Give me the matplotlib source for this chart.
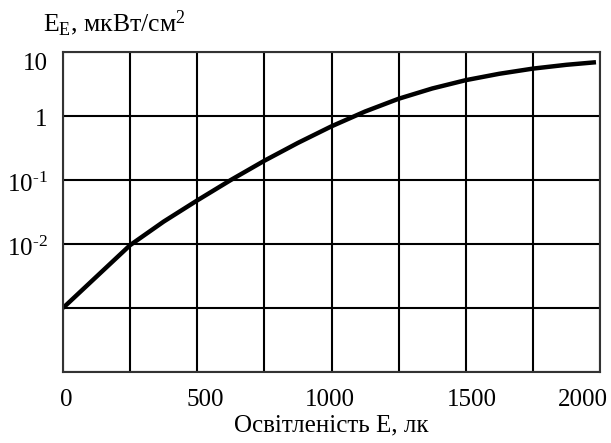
import matplotlib
matplotlib.use("Agg")
import matplotlib.pyplot as plt
from matplotlib.transforms import ScaledTranslation

# освітленість, лк
osv = [0, 125, 250, 375, 500, 625, 750, 875, 1000, 1125, 1250, 1375,
       1500, 1625, 1750, 1875, 1985]
# енергетична освітленість, мкВт/см2
ee = [0.001, 0.0031, 0.0096, 0.0224, 0.048, 0.100, 0.200, 0.380, 0.69, 1.175,
      1.86, 2.69, 3.63, 4.57, 5.50, 6.31, 6.92]

x_ticks = [0, 500, 1000, 1500, 2000]
x_grid = [0, 250, 500, 750, 1000, 1250, 1500, 1750, 2000]
y_ticks = [10, 1, 0.1, 0.01, 0.001, 0.0001]
y_labels = ["10", "1", r"10$^{\text{-1}}$", r"10$^{\text{-2}}$", "", ""]

plt.rcParams["font.family"] = ["Liberation Serif", "DejaVu Serif"]
plt.rcParams["mathtext.fontset"] = "custom"
plt.rcParams["mathtext.rm"] = "Liberation Serif"
plt.rcParams["mathtext.it"] = "Liberation Serif:italic"

fig = plt.figure(figsize=(6.11, 4.43), dpi=100)
ax = fig.add_axes([63 / 611, 1 - 372 / 443, 537 / 611, 320 / 443])

ax.set_yscale("log")
ax.set_xlim(0, 2000)
ax.set_ylim(1e-4, 10)

ax.set_xticks(x_grid)
ax.set_xticklabels([str(v) if v in x_ticks else "" for v in x_grid])
ax.set_yticks(y_ticks)
ax.set_yticklabels(y_labels)
ax.minorticks_off()
ax.tick_params(length=0, labelsize=18, colors="black")
ax.tick_params(axis="x", pad=12)
ax.tick_params(axis="y", pad=11)
ax.grid(True, color="black", linewidth=1.5)

# зсув підписів як на оригіналі
x_shift = {"0": 3, "500": 8, "1000": -2, "1500": 6, "2000": -17}
for lab in ax.get_xticklabels():
    dx = x_shift.get(lab.get_text(), 0)
    lab.set_transform(lab.get_transform() + ScaledTranslation(dx / 100, 0, fig.dpi_scale_trans))
for lab in ax.get_yticklabels():
    dy = -9 if lab.get_text() == "10" else -2
    lab.set_transform(lab.get_transform() + ScaledTranslation(0, dy / 100, fig.dpi_scale_trans))

for s in ax.spines.values():
    s.set_linewidth(1.5)
    s.set_color("#333333")

ax.plot(osv, ee, color="black", linewidth=3.2, solid_capstyle="butt")

ax.set_xlabel("Освітленість Е, лк", fontsize=18, labelpad=3)
fig.text(43 / 611, 1 - 31 / 443, r"E$_\mathrm{E}$, мкВт/см$^2$", fontsize=18.5,
         ha="left", va="baseline")

fig.savefig("out.png", dpi=100)
